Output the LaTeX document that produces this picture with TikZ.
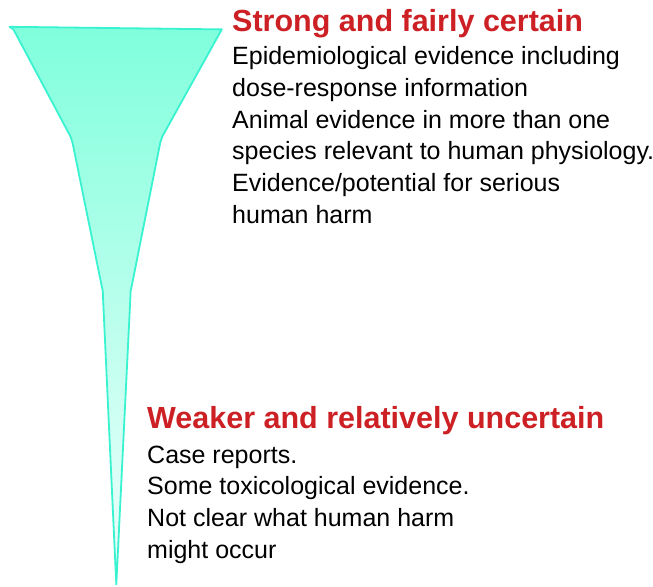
\documentclass[tikz,border=0pt]{standalone}
\usepackage{fontspec}
\setmainfont{Liberation Sans}
\definecolor{funnelfill}{RGB}{128,255,220}
\definecolor{funneltip}{RGB}{240,255,252}
\definecolor{funneledge}{RGB}{56,242,208}
\definecolor{headred}{RGB}{204,32,36}
\newcommand{\blockhead}[1]{{\fontsize{30.5bp}{31.6bp}\selectfont\bfseries\color{headred}#1}}
\begin{document}
\begin{tikzpicture}[x=1bp,y=-1bp,
  block/.style={anchor=base west, inner sep=0pt, align=left,
                font=\fontsize{25bp}{31.6bp}\selectfont}]
\useasboundingbox (0,0) rectangle (653,587);
% evidence funnel, wide at the top and narrowing to a point
\path[draw=funneledge, line width=1.8bp, line join=round,
      top color=funnelfill, bottom color=funneltip]
  (9.5,26.8) -- (13.5,29.5) -- (70.5,136.5)
  .. controls (71.8,139) .. (72.6,143)
  -- (101.8,286.5) .. controls (102.8,290) .. (103,297)
  -- (116.3,584.5) -- (130.4,297)
  .. controls (130.6,290) .. (131.6,286.5)
  -- (160.2,143) .. controls (160.8,139) .. (162.3,136.5)
  -- (221.8,29.4) -- cycle;
% upper description (anchored at the baseline of its last line)
\node[block] (strong) at (232,223) {%
  \blockhead{Strong and fairly certain}\\[1.5bp]
  Epidemiological evidence including\\
  dose-response information\\
  Animal evidence in more than one\\
  species relevant to human physiology.\\
  Evidence/potential for serious\\
  human harm};
% lower description (anchored at the baseline of its last line)
\node[block] (weak) at (147,558) {%
  \blockhead{Weaker and relatively uncertain}\\[3bp]
  Case reports.\\
  Some toxicological evidence.\\
  Not clear what human harm\\
  might occur};
\end{tikzpicture}
\end{document}
